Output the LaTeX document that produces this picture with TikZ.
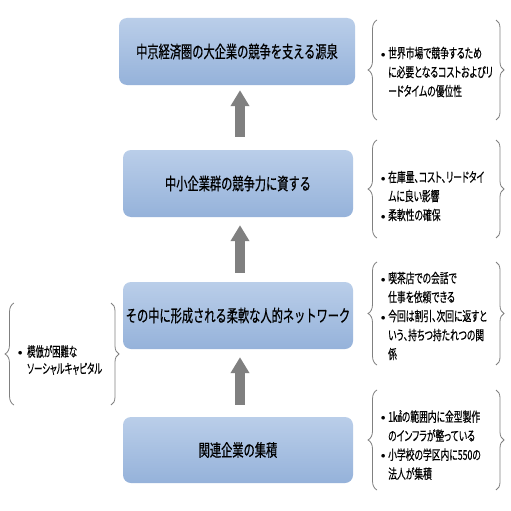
\documentclass[tikz,border=0pt]{standalone}
\usepackage{fontspec}
\usetikzlibrary{decorations.pathreplacing,arrows.meta}
\newfontfamily\jpbox[FakeStretch=0.66,FakeBold=0.5]{Noto Sans CJK JP}
\newfontfamily\jptxt[FakeStretch=0.65,FakeBold=0.4,RawFeature=+palt]{Noto Sans CJK JP}
\newfontfamily\jpleft[FakeStretch=0.62,FakeBold=0.4,RawFeature=+palt]{Noto Sans CJK JP}
\definecolor{boxtop}{HTML}{BACEE9}
\definecolor{boxbot}{HTML}{95B2DA}
\definecolor{arrowgray}{HTML}{808080}
\definecolor{bracegray}{HTML}{808080}
\newcommand{\bl}{\makebox[10pt][l]{{\rmfamily\textbullet}}}
\newcommand{\ind}{\hspace*{10pt}}
\tikzset{
  box/.style={rounded corners=8pt, top color=boxtop, bottom color=boxbot, draw=none,
    minimum height=67pt, inner sep=0pt, font=\jpbox\fontsize{17}{20}\selectfont, text=black},
  fatarrow/.style={draw=arrowgray, line width=10pt, -{Triangle[width=18pt,length=16pt]}, arrowgray},
  lbrace/.style={draw=bracegray, line width=0.8pt, decorate, decoration={brace, amplitude=9pt}},
  rbrace/.style={draw=bracegray, line width=0.8pt, decorate, decoration={brace, amplitude=8pt}},
  note/.style={anchor=west, align=left, inner sep=0pt, font=\jptxt\fontsize{13.5}{19}\selectfont, text=black}
}
\begin{document}
\begin{tikzpicture}[x=1pt,y=-1pt]
\useasboundingbox (0,0) rectangle (511,511);
\fill[white] (0,0) rectangle (511,511);

\node[box, minimum width=236pt] (b1) at (237,51.5) {中京経済圏の大企業の競争を支える源泉};
\node[box, minimum width=230pt] (b2) at (238,183.5) {中小企業群の競争力に資する};
\node[box, minimum width=230pt] (b3) at (238,315.5) {その中に形成される柔軟な人的ネットワーク};
\node[box, minimum width=230pt, minimum height=66pt] (b4) at (238,450) {関連企業の集積};

\draw[fatarrow] ([xshift=2pt,yshift=13pt]b2.north) -- ([xshift=3pt,yshift=-5pt]b1.south);
\draw[fatarrow] ([xshift=2pt,yshift=9pt]b3.north) -- ([xshift=2pt,yshift=-8pt]b2.south);
\draw[fatarrow] ([xshift=2pt,yshift=12pt]b4.north) -- ([xshift=2pt,yshift=-8pt]b3.south);

% right braces
\coordinate (l1t) at (377,20);  \coordinate (l1b) at (377,120);
\coordinate (r1t) at (496,20);  \coordinate (r1b) at (496,120);
\draw[lbrace] (l1b) -- (l1t);
\draw[rbrace] (r1t) -- (r1b);
\node[note] (t1) at (378,72) {\bl 世界市場で競争するため\\ \ind に必要となるコストおよびリ\\ \ind ードタイムの優位性};

\coordinate (l2t) at (377,140);  \coordinate (l2b) at (377,238);
\coordinate (r2t) at (496,140);  \coordinate (r2b) at (496,238);
\draw[lbrace] (l2b) -- (l2t);
\draw[rbrace] (r2t) -- (r2b);
\node[note] (t2) at (378,196) {\bl 在庫量、コスト、リードタイ\\ \ind ムに良い影響\\ \bl 柔軟性の確保};

\coordinate (l3t) at (377,262);  \coordinate (l3b) at (377,365);
\coordinate (r3t) at (496,262);  \coordinate (r3b) at (496,365);
\draw[lbrace] (l3b) -- (l3t);
\draw[rbrace] (r3t) -- (r3b);
\node[note] (t3) at (378,316) {\bl 喫茶店での会話で\\ \ind 仕事を依頼できる\\ \bl 今回は割引、次回に返すと\\ \ind いう、持ちつ持たれつの関\\ \ind 係};

\coordinate (l4t) at (377,390);  \coordinate (l4b) at (377,490);
\coordinate (r4t) at (496,390);  \coordinate (r4b) at (496,490);
\draw[lbrace] (l4b) -- (l4t);
\draw[rbrace] (r4t) -- (r4b);
\node[note] (t4) at (378,445) {\bl 1㎢の範囲内に金型製作\\ \ind のインフラが整っている\\ \bl 小学校の学区内に550の\\ \ind 法人が集積};

% left brace group
\coordinate (l5t) at (14,303);  \coordinate (l5b) at (14,405);
\coordinate (r5t) at (111,303);  \coordinate (r5b) at (111,405);
\draw[lbrace] (l5b) -- (l5t);
\draw[rbrace] (r5t) -- (r5b);
\node[note, font=\jpleft\fontsize{13.5}{17}\selectfont] (t5) at (15,360) {\makebox[12pt][l]{{\rmfamily\textbullet}}模倣が困難な\\ \hspace*{12pt}ソーシャルキャピタル};
\end{tikzpicture}
\end{document}
